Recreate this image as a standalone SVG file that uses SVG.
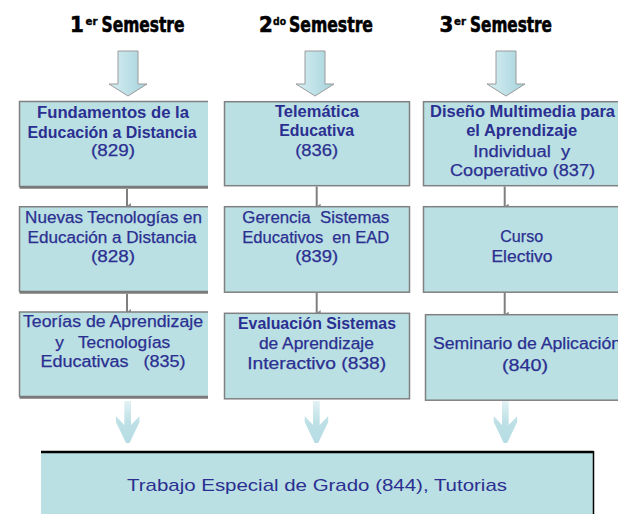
<svg xmlns="http://www.w3.org/2000/svg" width="618" height="514" viewBox="0 0 618 514">
<style>
.box{fill:#bae0e3}
.bd{fill:none;stroke:#808080;stroke-width:1.5}
.bdb{fill:none;stroke:#7a7a7a;stroke-width:3}
.t{font-family:"Liberation Sans",Arial,sans-serif;font-size:16px;fill:#2b2f91;text-anchor:middle;stroke:#2b2f91;stroke-width:0.25}
.b{font-weight:bold;stroke-width:0}
.h{font-family:"DejaVu Sans Condensed","DejaVu Sans","Liberation Sans",sans-serif;font-weight:bold;font-size:22px;fill:#000;stroke:#000;stroke-width:0.6}
.hs{font-size:10px;stroke-width:0.3}
.con{stroke:#7f7f7f;stroke-width:2;fill:none}
.bigarrow{fill:url(#ga);stroke:#9a9a9a;stroke-width:1}
.thinarrow{fill:url(#gb)}
</style>
<defs>
<linearGradient id="ga" x1="0" y1="0" x2="1" y2="0">
<stop offset="0" stop-color="#d6eff3"/>
<stop offset="1" stop-color="#a6d3db"/>
</linearGradient>
<linearGradient id="gb" x1="0" y1="0" x2="0" y2="1">
<stop offset="0" stop-color="#e2f2f5"/>
<stop offset="0.5" stop-color="#bde0e6"/>
<stop offset="1" stop-color="#b6dce3"/>
</linearGradient>
<marker id="ah" viewBox="0 0 6 4" refX="3" refY="4" markerWidth="6" markerHeight="4" markerUnits="userSpaceOnUse" orient="auto-start-reverse">
<path d="M0,0 L6,0 L3,4 Z" fill="#8a8a8a"/>
</marker>
</defs>

<g id="headings">
<text class="h" y="32"><tspan x="70">1</tspan><tspan class="hs" x="85.5" y="25" textLength="12" lengthAdjust="spacingAndGlyphs">er</tspan><tspan x="101.5" y="32" textLength="83" lengthAdjust="spacingAndGlyphs">Semestre</tspan></text>
<text class="h" y="32"><tspan x="259">2</tspan><tspan class="hs" x="273" y="25" textLength="13" lengthAdjust="spacingAndGlyphs">do</tspan><tspan x="289" y="32" textLength="84" lengthAdjust="spacingAndGlyphs">Semestre</tspan></text>
<text class="h" y="32"><tspan x="439.5">3</tspan><tspan class="hs" x="454" y="25" textLength="12" lengthAdjust="spacingAndGlyphs">er</tspan><tspan x="470" y="32" textLength="82" lengthAdjust="spacingAndGlyphs">Semestre</tspan></text>
</g>

<g id="top-arrows">
<path class="bigarrow" d="M118,51 H138 V84 H147 L128,96 L109,84 H118 Z"/>
<path class="bigarrow" d="M305,51 H325 V84 H334 L315,96 L296,84 H305 Z"/>
<path class="bigarrow" d="M496,51 H516 V84 H525 L506,96 L487,84 H496 Z"/>
</g>

<g id="connectors">
<line class="con" x1="127" y1="189" x2="127" y2="206" marker-end="url(#ah)"/>
<line class="con" x1="127" y1="294" x2="127" y2="312" marker-end="url(#ah)"/>
<line class="con" x1="316.7" y1="186.5" x2="316.7" y2="206.5" marker-end="url(#ah)"/>
<line class="con" x1="316.7" y1="293" x2="316.7" y2="313" marker-end="url(#ah)"/>
<line class="con" x1="504.7" y1="186.5" x2="504.7" y2="206.5" marker-end="url(#ah)"/>
<line class="con" x1="504.7" y1="293" x2="504.7" y2="314.5" marker-end="url(#ah)"/>
</g>

<g id="n829">
<rect class="box" x="19.5" y="101.5" width="188.5" height="86"/>
<path class="bd" d="M208,101.5 H19.5 V187"/>
<path class="bdb" d="M19.5,187.2 H208"/>
<text class="t b" x="113" y="118.3" textLength="152" lengthAdjust="spacingAndGlyphs">Fundamentos de  la</text>
<text class="t b" x="112" y="137.7" textLength="169" lengthAdjust="spacingAndGlyphs">Educación a Distancia</text>
<text class="t" x="113" y="156" textLength="44" lengthAdjust="spacingAndGlyphs">(829)</text>
</g>

<g id="n828">
<rect class="box" x="19.5" y="206.7" width="188.5" height="85.5"/>
<path class="bd" d="M208,206.7 H19.5 V292"/>
<path class="bdb" d="M19.5,292.2 H208"/>
<text class="t" x="113.6" y="223.3" textLength="177" lengthAdjust="spacingAndGlyphs">Nuevas Tecnologías en</text>
<text class="t" x="112" y="243.3" textLength="169" lengthAdjust="spacingAndGlyphs">Educación a Distancia</text>
<text class="t" x="113" y="262" textLength="44" lengthAdjust="spacingAndGlyphs">(828)</text>
</g>

<g id="n835">
<rect class="box" x="19.5" y="312" width="188.5" height="85.5"/>
<path class="bd" d="M208,312 H19.5 V397"/>
<path class="bdb" d="M19.5,397.3 H208"/>
<text class="t" x="113" y="327.3" textLength="180" lengthAdjust="spacingAndGlyphs">Teorías de Aprendizaje</text>
<text class="t" x="112.7" y="348.3" textLength="115" lengthAdjust="spacingAndGlyphs" xml:space="preserve">y   Tecnologías</text>
<text class="t" x="113" y="367.3" textLength="145" lengthAdjust="spacingAndGlyphs" xml:space="preserve">Educativas   (835)</text>
</g>

<g id="n836">
<rect class="box" x="224.5" y="101.7" width="185" height="84"/>
<rect class="bd" x="224.5" y="101.7" width="185" height="84"/>
<text class="t b" x="317" y="116.7" textLength="84" lengthAdjust="spacingAndGlyphs">Telemática</text>
<text class="t b" x="316.7" y="136" textLength="75" lengthAdjust="spacingAndGlyphs">Educativa</text>
<text class="t" x="316.7" y="156" textLength="43" lengthAdjust="spacingAndGlyphs">(836)</text>
</g>

<g id="n839">
<rect class="box" x="224.5" y="206.7" width="185" height="85.5"/>
<rect class="bd" x="224.5" y="206.7" width="185" height="85.5"/>
<text class="t" x="315.8" y="223.3" textLength="147" lengthAdjust="spacingAndGlyphs" xml:space="preserve">Gerencia  Sistemas</text>
<text class="t" x="315.8" y="243" textLength="147" lengthAdjust="spacingAndGlyphs" xml:space="preserve">Educativos  en EAD</text>
<text class="t" x="316.7" y="262" textLength="43" lengthAdjust="spacingAndGlyphs">(839)</text>
</g>

<g id="n838">
<rect class="box" x="224.5" y="313.3" width="185" height="85.5"/>
<rect class="bd" x="224.5" y="313.3" width="185" height="85.5"/>
<text class="t b" x="317" y="329.3" textLength="158" lengthAdjust="spacingAndGlyphs">Evaluación Sistemas</text>
<text class="t" x="316.4" y="349" textLength="115" lengthAdjust="spacingAndGlyphs">de Aprendizaje</text>
<text class="t" x="316.7" y="368.7" textLength="139" lengthAdjust="spacingAndGlyphs">Interactivo (838)</text>
</g>

<g id="n837">
<rect class="box" x="423.5" y="101.7" width="198" height="84"/>
<rect class="bd" x="423.5" y="101.7" width="198" height="84"/>
<text class="t b" x="522.5" y="116.7" textLength="185" lengthAdjust="spacingAndGlyphs">Diseño Multimedia para</text>
<text class="t b" x="521.7" y="136" textLength="111" lengthAdjust="spacingAndGlyphs">el Aprendizaje</text>
<text class="t" x="521.7" y="156.7" textLength="97" lengthAdjust="spacingAndGlyphs" xml:space="preserve">Individual  y</text>
<text class="t" x="522.5" y="176" textLength="145" lengthAdjust="spacingAndGlyphs">Cooperativo (837)</text>
</g>

<g id="electivo">
<rect class="box" x="423.5" y="206.7" width="198" height="85.5"/>
<rect class="bd" x="423.5" y="206.7" width="198" height="85.5"/>
<text class="t" x="521.7" y="242.3" textLength="43" lengthAdjust="spacingAndGlyphs">Curso</text>
<text class="t" x="522" y="261.7" textLength="61" lengthAdjust="spacingAndGlyphs">Electivo</text>
</g>

<g id="n840">
<rect class="box" x="425.5" y="314.7" width="196" height="85.5"/>
<rect class="bd" x="425.5" y="314.7" width="196" height="85.5"/>
<text class="t" x="433" y="349.3" style="text-anchor:start" textLength="188" lengthAdjust="spacingAndGlyphs">Seminario de Aplicación</text>
<text class="t" x="525" y="371" textLength="46" lengthAdjust="spacingAndGlyphs">(840)</text>
</g>

<g id="bottom-arrows">
<path class="thinarrow" d="M124.3,401 H131 V425 L139.5,416 V422 L129.5,443 H126 L116,422 V416 L124.3,425 Z"/>
<path class="thinarrow" d="M313,401 H319.7 V425 L328.2,416 V422 L318.2,443 H314.7 L304.7,422 V416 L313,425 Z"/>
<path class="thinarrow" d="M502,401 H508.7 V425 L517.2,416 V422 L507.2,443 H503.7 L493.7,422 V416 L502,425 Z"/>
</g>

<g id="n844">
<rect class="box" x="41" y="451" width="552.5" height="64"/>
<path d="M41,452 H593.5" stroke="#000" stroke-width="2.5" fill="none"/>
<path d="M593.5,451 V514" stroke="#000" stroke-width="1.5" fill="none"/>
<text class="t" x="317" y="490.7" style="font-size:17px;stroke-width:0" textLength="380" lengthAdjust="spacingAndGlyphs">Trabajo Especial de Grado (844), Tutorias</text>
</g>
</svg>
